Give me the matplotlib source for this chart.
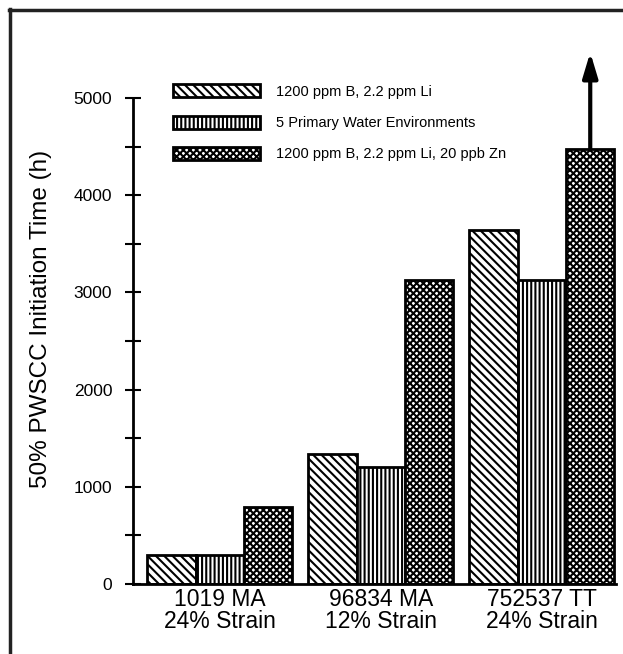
import matplotlib
matplotlib.use("Agg")
import matplotlib.pyplot as plt
import numpy as np
from matplotlib.lines import Line2D
from matplotlib.ticker import MultipleLocator

plt.rcParams['font.family'] = ['Liberation Sans', 'DejaVu Sans']
plt.rcParams['hatch.linewidth'] = 1.5

categories = ["1019 MA\n24% Strain", "96834 MA\n12% Strain", "752537 TT\n24% Strain"]
series_names = ["1200 ppm B, 2.2 ppm Li",
                "5 Primary Water Environments",
                "1200 ppm B, 2.2 ppm Li, 20 ppb Zn"]
b_li = [300, 1340, 3640]
primary = [300, 1200, 3130]
b_li_zn = [790, 3130, 4480]
arrow_top = 5470
hatches = ['\\\\\\\\', '||||', 'xxxxx']

fig = plt.figure(figsize=(6.23, 6.54), dpi=100)
W, H = 623, 654
ax = fig.add_axes([133 / W, 1 - 584 / H, (616 - 133) / W, (584 - 98) / H])

x = np.arange(len(categories))
width = 0.30
offsets = [-width, 0, width]
for vals, off, h, name in zip([b_li, primary, b_li_zn], offsets, hatches, series_names):
    ax.bar(x + off, vals, width, facecolor='white', edgecolor='black',
           linewidth=2.0, hatch=h, label=name)

ax.annotate('', xy=(x[2] + width, arrow_top), xytext=(x[2] + width, b_li_zn[2]),
            arrowprops=dict(arrowstyle='-|>,head_length=1.5,head_width=0.45',
                            color='black', lw=3, shrinkA=0, shrinkB=0),
            annotation_clip=False)

ax.set_xlim(-0.54, 2.46)
ax.set_ylim(0, 5000)
ax.spines['top'].set_visible(False)
ax.spines['right'].set_visible(False)
ax.spines['left'].set_linewidth(2)
ax.spines['bottom'].set_linewidth(2)
ax.yaxis.set_major_locator(MultipleLocator(1000))
ax.yaxis.set_minor_locator(MultipleLocator(500))
ax.tick_params(axis='y', which='both', direction='inout', length=12, width=1.5,
               labelsize=12.5, pad=9)
ax.set_xticks(x)
ax.set_xticklabels(categories, fontsize=16.5, linespacing=0.95)
ax.tick_params(axis='x', length=0, pad=3)
ax.set_ylabel("50% PWSCC Initiation Time (h)", fontsize=17.5)
ax.yaxis.set_label_coords(-0.168, 0.545)

leg = ax.legend(loc='upper left', bbox_to_anchor=(0.07, 1.04), frameon=False,
                fontsize=10.5, handlelength=6.0, handleheight=1.0,
                labelspacing=1.15, handletextpad=1.1, borderaxespad=0)

fig.add_artist(Line2D([9 / W, 1.0], [1 - 10 / H, 1 - 10 / H], color='#222222', lw=2.5))
fig.add_artist(Line2D([10 / W, 10 / W], [0, 1 - 9 / H], color='#222222', lw=2.5))

fig.savefig("out.png", dpi=100)
